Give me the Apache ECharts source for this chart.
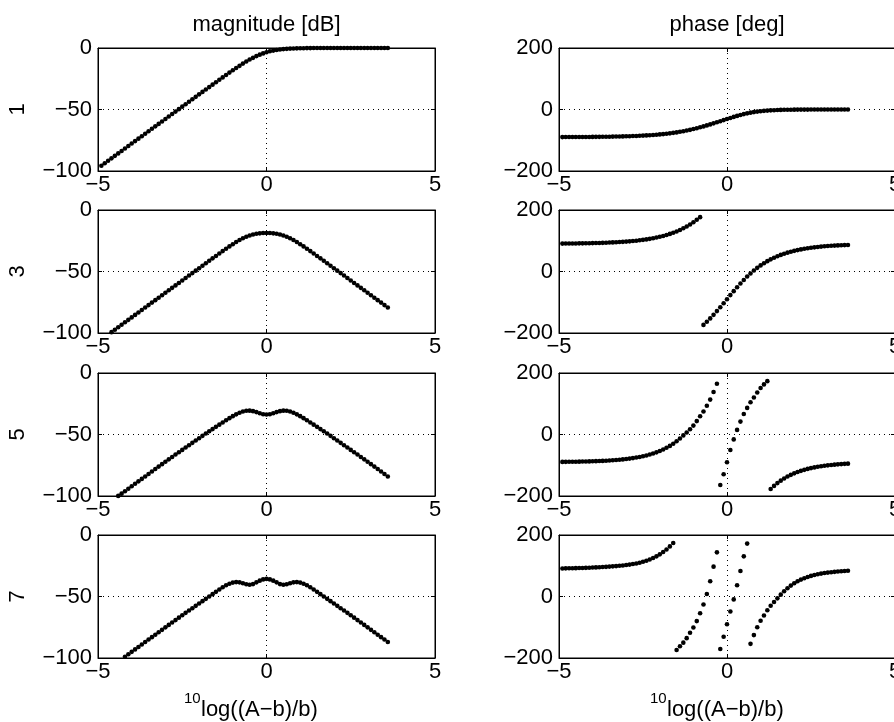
<!DOCTYPE html>
<html><head><meta charset="utf-8">
<script src="https://cdn.jsdelivr.net/npm/echarts@6/dist/echarts.min.js"></script>
<style>html,body{margin:0;padding:0;background:#fff;overflow:hidden}#c{width:894px;height:722px}</style>
</head><body><div id="c"></div>
<script>
// ---- data ----
const xValues = [
 -4.9,-4.8,-4.7,-4.6,-4.5,-4.4,-4.3,-4.2,-4.1,-4.0,
 -3.9,-3.8,-3.7,-3.6,-3.5,-3.4,-3.3,-3.2,-3.1,-3.0,
 -2.9,-2.8,-2.7,-2.6,-2.5,-2.4,-2.3,-2.2,-2.1,-2.0,
 -1.9,-1.8,-1.7,-1.6,-1.5,-1.4,-1.3,-1.2,-1.1,-1.0,
 -0.9,-0.8,-0.7,-0.6,-0.5,-0.4,-0.3,-0.2,-0.1,0.0,
 0.1,0.2,0.3,0.4,0.5,0.6,0.7,0.8,0.9,1.0,
 1.1,1.2,1.3,1.4,1.5,1.6,1.7,1.8,1.9,2.0,
 2.1,2.2,2.3,2.4,2.5,2.6,2.7,2.8,2.9,3.0,
 3.1,3.2,3.3,3.4,3.5,3.6];

const rowLabels = ['1','3','5','7'];
const columnTitles = ['magnitude [dB]','phase [deg]'];
const xAxisLabel = ['10','log((A\u2212b)/b)'];
const xTicks = {min:-5, max:5, step:5};
const magTicks = {min:-100, max:0, step:50};
const phaseTicks = {min:-200, max:200, step:200};

const mag1 = [
 -95.7,-93.7,-91.7,-89.7,-87.7,-85.7,-83.7,-81.7,-79.7,-77.7,
 -75.7,-73.7,-71.7,-69.7,-67.7,-65.7,-63.7,-61.7,-59.7,-57.7,
 -55.7,-53.7,-51.7,-49.7,-47.7,-45.7,-43.7,-41.7,-39.7,-37.7,
 -35.7,-33.7,-31.8,-29.8,-27.8,-25.8,-23.9,-21.9,-20.0,-18.1,
 -16.3,-14.5,-12.7,-11.0,-9.4,-8.0,-6.6,-5.4,-4.4,-3.5,
 -2.7,-2.1,-1.6,-1.2,-0.9,-0.7,-0.5,-0.4,-0.3,-0.2,
 -0.15,-0.1,-0.08,-0.06,-0.05,-0.03,-0.02,-0.02,-0.01,-0.01,
 0,0,0,0,0,0,0,0,0,0,
 0,0,0,0,0,0];
const phase1 = [
 -89.7,-89.6,-89.6,-89.5,-89.5,-89.4,-89.4,-89.3,-89.2,-89.1,
 -89.0,-88.9,-88.7,-88.6,-88.4,-88.2,-88.0,-87.7,-87.5,-87.2,
 -86.8,-86.4,-86.0,-85.5,-84.9,-84.3,-83.6,-82.9,-82.0,-81.0,
 -80.0,-78.8,-77.5,-76.0,-74.4,-72.6,-70.6,-68.4,-66.1,-63.5,
 -60.8,-57.9,-54.9,-51.7,-48.5,-45.0,-41.6,-38.0,-34.5,-31.0,
 -27.5,-24.0,-20.8,-17.8,-15.0,-12.5,-10.3,-8.4,-6.8,-5.5,
 -4.4,-3.5,-2.8,-2.2,-1.7,-1.3,-1.0,-0.8,-0.6,-0.5,
 -0.4,-0.35,-0.3,-0.25,-0.2,-0.2,-0.15,-0.15,-0.1,-0.1,
 -0.1,-0.1,-0.05,-0.05,-0.05,-0.05];
const mag3 = [
 null,null,null,-99.3,-97.3,-95.3,-93.3,-91.3,-89.3,-87.3,
 -85.3,-83.3,-81.3,-79.3,-77.3,-75.3,-73.3,-71.3,-69.3,-67.3,
 -65.3,-63.3,-61.3,-59.3,-57.3,-55.3,-53.3,-51.3,-49.3,-47.3,
 -45.3,-43.3,-41.3,-39.3,-37.4,-35.4,-33.4,-31.5,-29.6,-27.8,
 -26.0,-24.4,-23.0,-21.7,-20.7,-19.9,-19.3,-19.0,-18.7,-18.7,
 -18.7,-19.0,-19.3,-19.9,-20.7,-21.7,-23.0,-24.4,-26.0,-27.8,
 -29.6,-31.5,-33.4,-35.4,-37.4,-39.3,-41.3,-43.3,-45.3,-47.3,
 -49.3,-51.3,-53.3,-55.3,-57.3,-59.3,-61.3,-63.3,-65.3,-67.3,
 -69.3,-71.3,-73.3,-75.3,-77.3,-79.3];
const phase3 = [
 90.8,90.9,91.0,91.2,91.3,91.5,91.6,91.8,92.0,92.3,
 92.6,92.9,93.2,93.6,94.1,94.6,95.1,95.8,96.5,97.2,
 98.1,99.1,100.2,101.5,102.9,104.4,106.2,108.2,110.4,112.8,
 115.6,118.7,122.2,126.0,130.3,135.1,140.5,146.4,153.0,160.2,
 168.1,176.8,-173.7,-163.5,-152.6,-141.0,-128.8,-116.2,-103.2,-90.0,
 -76.8,-63.9,-51.2,-39.0,-27.4,-16.5,-6.3,3.2,11.9,19.8,
 27.0,33.6,39.5,44.9,49.7,54.0,57.8,61.3,64.4,67.2,
 69.6,71.8,73.8,75.6,77.1,78.5,79.8,80.9,81.9,82.8,
 83.5,84.3,84.9,85.4,85.9,86.4];
const mag5 = [
 null,null,null,null,null,-99.9,-98.1,-96.1,-94.1,-92.1,
 -90.1,-88.1,-86.1,-84.1,-82.1,-80.1,-78.1,-76.1,-74.1,-72.2,
 -70.2,-68.3,-66.3,-64.4,-62.5,-60.6,-58.7,-56.8,-54.9,-53.0,
 -51.1,-49.2,-47.4,-45.6,-43.8,-42.0,-40.2,-38.4,-36.7,-35.1,
 -33.6,-32.3,-31.3,-30.7,-30.6,-31.0,-31.8,-32.7,-33.5,-33.8,
 -33.5,-32.7,-31.8,-31.0,-30.6,-30.7,-31.3,-32.3,-33.6,-35.1,
 -36.7,-38.4,-40.2,-42.0,-43.8,-45.6,-47.4,-49.2,-51.1,-53.0,
 -54.9,-56.8,-58.7,-60.6,-62.5,-64.4,-66.3,-68.3,-70.2,-72.2,
 -74.1,-76.1,-78.1,-80.1,-82.1,-84.1];
const phase5 = [
 -89.1,-89.0,-88.8,-88.7,-88.5,-88.3,-88.0,-87.8,-87.5,-87.1,
 -86.7,-86.3,-85.8,-85.2,-84.5,-83.8,-83.0,-82.0,-81.0,-79.7,
 -78.4,-76.8,-75.0,-73.0,-70.7,-68.1,-65.1,-61.8,-58.0,-53.7,
 -48.8,-43.3,-37.0,-29.9,-21.9,-12.9,-3.0,6.5,17.0,29.0,
 43.5,59.5,75.0,93.5,113.5,138.0,165.0,-164.0,-129.5,-90.0,
 -50.5,-16.0,15.0,42.0,66.5,86.5,105.0,120.5,136.5,151.0,
 163.0,173.5,-177.0,-167.1,-158.1,-150.1,-143.0,-136.7,-131.2,-126.3,
 -122.0,-118.2,-114.9,-111.9,-109.3,-107.0,-105.0,-103.2,-101.6,-100.3,
 -99.0,-98.0,-97.0,-96.2,-95.5,-94.8];
const mag7 = [
 null,null,null,null,null,null,null,-99.0,-97.0,-95.0,
 -93.0,-91.0,-89.0,-87.0,-85.0,-83.05,-81.05,-79.1,-77.1,-75.1,
 -73.1,-71.15,-69.2,-67.2,-65.3,-63.3,-61.4,-59.5,-57.6,-55.7,
 -53.8,-51.9,-50.0,-48.1,-46.2,-44.3,-42.5,-40.9,-39.6,-38.7,
 -38.3,-38.5,-39.2,-40.1,-40.5,-39.9,-38.5,-37.1,-36.1,-35.7,
 -36.1,-37.1,-38.5,-39.9,-40.5,-40.1,-39.2,-38.5,-38.3,-38.7,
 -39.6,-40.9,-42.5,-44.3,-46.2,-48.1,-50.0,-51.9,-53.8,-55.7,
 -57.6,-59.5,-61.4,-63.3,-65.3,-67.2,-69.2,-71.15,-73.1,-75.1,
 -77.1,-79.1,-81.05,-83.05,-85.0,-87.0];
const phase7 = [
 91.3,91.5,91.7,91.9,92.2,92.5,92.8,93.2,93.6,94.1,
 94.6,95.2,95.8,96.5,97.2,98.0,98.8,99.8,100.9,102.2,
 103.7,105.5,107.5,110.0,113.0,116.5,120.5,125.0,130.5,137.0,
 144.5,153.0,163.0,174.0,-174.0,-162.0,-150.0,-135.5,-118.0,-101.0,
 -80.0,-54.5,-26.0,8.0,49.5,97.0,143.5,-170.5,-131.0,-90.0,
 -49.0,-9.5,36.5,83.0,130.5,172.0,-154.0,-125.5,-100.0,-79.0,
 -62.0,-44.5,-30.0,-18.0,-6.0,6.0,17.0,27.0,35.5,43.0,
 49.5,55.0,59.5,63.5,67.0,70.0,72.5,74.5,76.3,77.8,
 79.1,80.2,81.2,82.0,82.8,83.5];

const magnitudes = [mag1, mag3, mag5, mag7];
const phases = [phase1, phase3, phase5, phase7];

// ---- layout / style ----
const FONT = 'Liberation Sans, Arial, Helvetica, sans-serif';
const FS = 22;
const colLeft = [98, 559], colWidth = [337, 336];
const rowTop = [48, 210, 373, 535], rowHeight = 123;

const fmt = v => (v < 0 ? '\u2212' + Math.abs(v) : String(v));
const dotted = {color:'#000', width:1, type:[1,4]};

const grid = [], xAxis = [], yAxis = [], series = [];
for (let r = 0; r < 4; r++) {
  for (let c = 0; c < 2; c++) {
    const g = grid.length;
    grid.push({left: colLeft[c], top: rowTop[r], width: colWidth[c], height: rowHeight,
      show: true, borderColor: '#000', borderWidth: 1, containLabel: false, outerBoundsMode: 'none'});
    const yt = c === 0 ? magTicks : phaseTicks;
    const xBase = {type:'value', gridIndex:g, min:xTicks.min, max:xTicks.max, interval:xTicks.step,
      axisLine:{show:true, onZero:false, lineStyle:{color:'#000', width:1}},
      axisTick:{show:true, inside:true, length:4, lineStyle:{color:'#000'}}};
    const yBase = {type:'value', gridIndex:g, min:yt.min, max:yt.max, interval:yt.step,
      axisLine:{show:true, onZero:false, lineStyle:{color:'#000', width:1}},
      axisTick:{show:true, inside:true, length:4, lineStyle:{color:'#000'}}};
    xAxis.push(Object.assign({}, xBase, {position:'bottom',
      axisLabel:{show:true, color:'#000', fontSize:FS, fontFamily:FONT, margin:3, formatter:fmt,
        showMinLabel:true, showMaxLabel:true, hideOverlap:false},
      splitLine:{show:true, lineStyle:dotted}}));
    xAxis.push(Object.assign({}, xBase, {position:'top', axisLabel:{show:false}, splitLine:{show:false}}));
    yAxis.push(Object.assign({}, yBase, {position:'left',
      axisLabel:{show:true, color:'#000', fontSize:FS, fontFamily:FONT, margin:6, formatter:fmt,
        showMinLabel:true, showMaxLabel:true, hideOverlap:false},
      splitLine:{show:true, lineStyle:dotted}}));
    yAxis.push(Object.assign({}, yBase, {position:'right', axisLabel:{show:false}, splitLine:{show:false}}));
    const vals = c === 0 ? magnitudes[r] : phases[r];
    const data = [];
    xValues.forEach((x, i) => { if (vals[i] !== null) data.push([x, vals[i]]); });
    series.push({type:'scatter', xAxisIndex: 2*g, yAxisIndex: 2*g, data,
      symbol:'circle', symbolSize:4.6, clip:true, silent:true,
      itemStyle:{color:'#000', opacity:1}});
  }
}

const graphic = [];
const txt = (x, y, text, extra) => Object.assign({type:'text', x, y,
  style:{text, fill:'#000', font: FS + 'px ' + FONT, align:'center', verticalAlign:'middle'}}, extra || {});
graphic.push(txt(266.5, 25, columnTitles[0]));
graphic.push(txt(727, 25, columnTitles[1]));
rowLabels.forEach((lab, r) => {
  graphic.push(txt(18, rowTop[r] + rowHeight / 2, lab, {rotation: Math.PI / 2}));
});
[[184, 201], [650, 667]].forEach(([xs, xm]) => {
  graphic.push({type:'text', x: xs, y: 699, style:{text: xAxisLabel[0], fill:'#000', font:'15px ' + FONT, align:'left', verticalAlign:'middle'}});
  graphic.push({type:'text', x: xm, y: 710, style:{text: xAxisLabel[1], fill:'#000', font: FS + 'px ' + FONT, align:'left', verticalAlign:'middle'}});
});

const chart = echarts.init(document.getElementById('c'), null, {renderer:'canvas'});
chart.setOption({animation:false, backgroundColor:'#fff', grid, xAxis, yAxis, series, graphic});
</script>
</body></html>
